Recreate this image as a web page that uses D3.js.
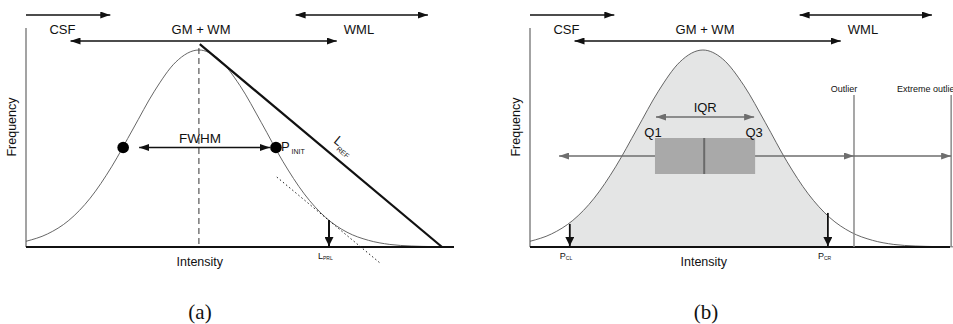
<!DOCTYPE html>
<html>
<head>
<meta charset="utf-8">
<script src="https://cdn.jsdelivr.net/npm/d3@7"></script>
<style>
  body { margin: 0; background: #fff; }
  text { font-family: "Liberation Sans", Arial, sans-serif; fill: #111; }
  .cap { font-family: "Liberation Serif", "Times New Roman", serif; font-size: 21px; }
</style>
</head>
<body>
<svg id="chart" width="953" height="324"></svg>
<script>
// intensity / frequency samples of the histogram curve (0-100 units)
var curveIntensity = [0, 5, 10, 15, 20, 25, 30, 35, 40.4, 45, 50, 55, 60, 65, 70, 75, 80, 85, 90, 95, 100];
var curveFreq      = [2.9, 6.6, 13.5, 24.8, 40.7, 59.9, 79.1, 93.9, 100, 95.5, 81.9, 63.1, 43.5, 27.0, 15.0, 7.5, 3.4, 1.3, 0.5, 0.2, 0.05];

// tissue ranges along the top (intensity from/to)
var regionNames = ['CSF', 'GM + WM', 'WML'];
var regionFrom  = [0, 10.4, 63];
var regionTo    = [19.7, 72.6, 93.9];
var regionLabelAt = [8.5, 40.9, 77.8];

// panel (a)
var fwhmIntensity = [22.7, 58.4];
var fwhmFreq = 50;
var peakIntensity = 40.4;
var lrefStart = [40.6, 103];
var lrefEnd   = [97.2, 0];
var tangentStart = [58.6, 35.5];
var tangentEnd   = [82.7, -8.1];
var lprlIntensity = 70.8, lprlFreq = 13.7;

// panel (b)
var boxQ1 = 29.2, boxMedian = 40.7, boxQ3 = 52.6;
var whiskerLeft = 6.8;
var outlierAt = 75.7, extremeAt = 98.4;
var pclIntensity = 9.3, pclFreq = 11.7;
var pcrIntensity = 69.6, pcrFreq = 17.3;

var curve = curveIntensity.map(function(d, i){ return [d, curveFreq[i]]; });

var svg = d3.select('#chart');
var defs = svg.append('defs');
function marker(id, col, w, h){
  defs.append('marker')
    .attr('id', id).attr('markerUnits', 'userSpaceOnUse')
    .attr('markerWidth', w).attr('markerHeight', h)
    .attr('refX', w).attr('refY', h/2)
    .attr('orient', 'auto-start-reverse')
    .append('path').attr('d', 'M0,0L' + w + ',' + (h/2) + 'L0,' + h + 'Z').attr('fill', col);
}
marker('ab', '#111', 10, 7);
marker('ag', '#6e6e6e', 10, 7);
marker('abig', '#111', 9, 9);

var y = d3.scaleLinear().domain([0, 100]).range([247, 50]);

function panel(x0, id){
  var x = d3.scaleLinear().domain([0, 100]).range([x0, x0 + 428]);
  var g = svg.append('g');

  // region arrows on top
  regionNames.forEach(function(n, i){
    var yy = i === 1 ? 41 : 15;
    g.append('line')
      .attr('x1', x(regionFrom[i])).attr('x2', x(regionTo[i]))
      .attr('y1', yy).attr('y2', yy)
      .attr('stroke', '#111').attr('stroke-width', 1.6)
      .attr('marker-end', 'url(#ab)')
      .attr('marker-start', i === 0 ? null : 'url(#ab)');
    g.append('text').attr('x', x(regionLabelAt[i])).attr('y', 33.5)
      .attr('text-anchor', 'middle').attr('font-size', 13).text(n);
  });

  // axes
  g.append('line').attr('x1', x(0)).attr('x2', x(0)).attr('y1', 28).attr('y2', 247)
    .attr('stroke', '#666').attr('stroke-width', 1.2);
  g.append('text').attr('transform', 'translate(' + (x0 - 10) + ',127) rotate(-90)')
    .attr('text-anchor', 'middle').attr('font-size', 12.5).text('Frequency');
  g.append('text').attr('x', x(40.6)).attr('y', 266)
    .attr('text-anchor', 'middle').attr('font-size', 12.5).text('Intensity');

  return {g: g, x: x};
}

var line = function(x){
  return d3.line().x(function(d){ return x(d[0]); }).y(function(d){ return y(d[1]); }).curve(d3.curveMonotoneX);
};

// ---------- panel (a)
var A = panel(26, 'a');
A.g.append('path').attr('d', line(A.x)(curve)).attr('fill', 'none').attr('stroke', '#555').attr('stroke-width', 0.9);
A.g.append('line').attr('x1', A.x(0)).attr('x2', A.x(100)).attr('y1', y(0)).attr('y2', y(0))
  .attr('stroke', '#111').attr('stroke-width', 2);
A.g.append('line').attr('x1', A.x(peakIntensity)).attr('x2', A.x(peakIntensity)).attr('y1', y(101)).attr('y2', y(0))
  .attr('stroke', '#333').attr('stroke-width', 1).attr('stroke-dasharray', '6,4');
A.g.append('line').attr('x1', A.x(lrefStart[0])).attr('y1', y(lrefStart[1]))
  .attr('x2', A.x(lrefEnd[0])).attr('y2', y(lrefEnd[1]))
  .attr('stroke', '#111').attr('stroke-width', 2.2);
A.g.append('line').attr('x1', A.x(tangentStart[0])).attr('y1', y(tangentStart[1]))
  .attr('x2', A.x(tangentEnd[0])).attr('y2', y(tangentEnd[1]))
  .attr('stroke', '#222').attr('stroke-width', 1).attr('stroke-dasharray', '1.5,2.5');
A.g.append('line').attr('x1', A.x(fwhmIntensity[0]) + 16).attr('x2', A.x(fwhmIntensity[1]) - 6)
  .attr('y1', y(fwhmFreq) - 1).attr('y2', y(fwhmFreq) - 1)
  .attr('stroke', '#111').attr('stroke-width', 1.4)
  .attr('marker-start', 'url(#ab)').attr('marker-end', 'url(#ab)');
A.g.selectAll('circle').data(fwhmIntensity).enter().append('circle')
  .attr('cx', function(d){ return A.x(d); }).attr('cy', y(fwhmFreq) - 1).attr('r', 5.8).attr('fill', '#000');
A.g.append('text').attr('x', A.x(peakIntensity) + 1).attr('y', 143).attr('text-anchor', 'middle')
  .attr('font-size', 13.5).text('FWHM');
var pinit = A.g.append('text').attr('x', A.x(fwhmIntensity[1]) + 5).attr('y', 151).attr('font-size', 13);
pinit.append('tspan').text('P');
pinit.append('tspan').attr('font-size', 7).attr('dy', 3).attr('dx', 2).text('INIT');
var lref = A.g.append('text').attr('transform', 'translate(333,142) rotate(40)').attr('font-size', 13);
lref.append('tspan').text('L');
lref.append('tspan').attr('font-size', 7).attr('dy', 4).text('REF');
A.g.append('line').attr('x1', A.x(lprlIntensity)).attr('x2', A.x(lprlIntensity))
  .attr('y1', y(lprlFreq)).attr('y2', y(0) - 1)
  .attr('stroke', '#111').attr('stroke-width', 2).attr('marker-end', 'url(#abig)');
var lprl = A.g.append('text').attr('x', A.x(lprlIntensity) - 11).attr('y', 259).attr('font-size', 9);
lprl.append('tspan').text('L');
lprl.append('tspan').attr('font-size', 5).attr('dy', 1).text('PRL');

// ---------- panel (b)
var B = panel(530, 'b');
defs.append('clipPath').attr('id', 'fillclip').append('rect')
  .attr('x', B.x(pclIntensity)).attr('width', B.x(pcrIntensity) - B.x(pclIntensity))
  .attr('y', 0).attr('height', 324);
B.g.append('path')
  .attr('d', d3.area().x(function(d){ return B.x(d[0]); }).y0(y(0)).y1(function(d){ return y(d[1]); }).curve(d3.curveMonotoneX)(curve))
  .attr('fill', '#e4e5e5').attr('clip-path', 'url(#fillclip)');
B.g.append('path').attr('d', line(B.x)(curve)).attr('fill', 'none').attr('stroke', '#555').attr('stroke-width', 0.9);
B.g.append('line').attr('x1', B.x(0)).attr('x2', 950).attr('y1', y(0)).attr('y2', y(0))
  .attr('stroke', '#111').attr('stroke-width', 2);

// outlier fences
[outlierAt, extremeAt].forEach(function(v){
  B.g.append('line').attr('x1', B.x(v)).attr('x2', B.x(v)).attr('y1', 95).attr('y2', y(0))
    .attr('stroke', '#8a8a8a').attr('stroke-width', 1.5);
});
B.g.append('text').attr('x', B.x(outlierAt) - 10).attr('y', 92).attr('text-anchor', 'middle').attr('font-size', 9).text('Outlier');
B.g.append('text').attr('x', 897).attr('y', 92).attr('font-size', 9).text('Extreme outlier');

// whiskers
var wy = 156;
B.g.append('line').attr('x1', B.x(whiskerLeft)).attr('x2', B.x(outlierAt)).attr('y1', wy).attr('y2', wy)
  .attr('stroke', '#6e6e6e').attr('stroke-width', 1.4).attr('marker-start', 'url(#ag)').attr('marker-end', 'url(#ag)');
B.g.append('line').attr('x1', B.x(outlierAt)).attr('x2', B.x(extremeAt)).attr('y1', wy).attr('y2', wy)
  .attr('stroke', '#6e6e6e').attr('stroke-width', 1.4).attr('marker-end', 'url(#ag)');
// box
B.g.append('rect').attr('x', B.x(boxQ1)).attr('width', B.x(boxQ3) - B.x(boxQ1))
  .attr('y', 138).attr('height', 36).attr('fill', '#a9a9a9');
B.g.append('line').attr('x1', B.x(boxMedian)).attr('x2', B.x(boxMedian)).attr('y1', 138).attr('y2', 174)
  .attr('stroke', '#6a6a6a').attr('stroke-width', 2);
// IQR
B.g.append('line').attr('x1', B.x(boxQ1) + 1).attr('x2', B.x(boxQ3) - 1).attr('y1', 117).attr('y2', 117)
  .attr('stroke', '#6e6e6e').attr('stroke-width', 1.4).attr('marker-start', 'url(#ag)').attr('marker-end', 'url(#ag)');
B.g.append('text').attr('x', B.x(boxMedian) + 1).attr('y', 112).attr('text-anchor', 'middle').attr('font-size', 13).text('IQR');
B.g.append('text').attr('x', B.x(boxQ1) - 2).attr('y', 137).attr('text-anchor', 'middle').attr('font-size', 13).text('Q1');
B.g.append('text').attr('x', B.x(boxQ3) - 1).attr('y', 137).attr('text-anchor', 'middle').attr('font-size', 13).text('Q3');

// percentile arrows
[[pclIntensity, pclFreq, 'CL'], [pcrIntensity, pcrFreq, 'CR']].forEach(function(p){
  B.g.append('line').attr('x1', B.x(p[0])).attr('x2', B.x(p[0])).attr('y1', y(p[1])).attr('y2', y(0) - 1)
    .attr('stroke', '#111').attr('stroke-width', 1.8).attr('marker-end', 'url(#abig)');
  var t = B.g.append('text').attr('x', B.x(p[0]) - 10).attr('y', 259).attr('font-size', 9);
  t.append('tspan').text('P');
  t.append('tspan').attr('font-size', 5).attr('dy', 1).text(p[2]);
});

// captions
svg.append('text').attr('class', 'cap').attr('x', 200).attr('y', 319).attr('text-anchor', 'middle').text('(a)');
svg.append('text').attr('class', 'cap').attr('x', 706).attr('y', 319).attr('text-anchor', 'middle').text('(b)');
</script>
</body>
</html>
